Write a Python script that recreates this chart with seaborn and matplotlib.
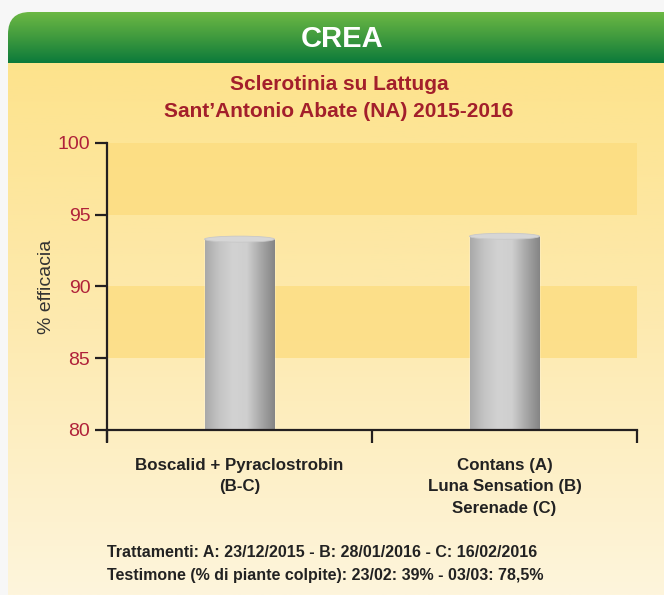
import numpy as np
import pandas as pd
import matplotlib
matplotlib.use("Agg")
import matplotlib.pyplot as plt
import seaborn as sns
from matplotlib.patches import FancyBboxPatch, Ellipse, Rectangle
from matplotlib.colors import LinearSegmentedColormap

# dati
categorie = ["Boscalid + Pyraclostrobin\n(B-C)",
             "Contans (A)\nLuna Sensation (B)\nSerenade (C)"]
efficacia = [93.3, 93.5]
y_ticks = [80, 85, 90, 95, 100]
bande = [(95, 100), (85, 90)]

header = "CREA"
titolo = "Sclerotinia su Lattuga\nSant\u2019Antonio Abate (NA) 2015-2016"
y_label = "% efficacia"
note = ("Trattamenti: A: 23/12/2015 - B: 28/01/2016 - C: 16/02/2016\n"
        "Testimone (% di piante colpite): 23/02: 39% - 03/03: 78,5%")

W, H = 664, 595
sns.set_theme(style="white")
plt.rcParams["font.family"] = ["Liberation Sans Narrow", "Liberation Sans", "DejaVu Sans"]

fig = plt.figure(figsize=(W / 100, H / 100), dpi=100)
fig.patch.set_facecolor("#f7f7f7")

# sfondo del pannello in coordinate pixel
bg = fig.add_axes([0, 0, 1, 1], zorder=-5)
bg.set_xlim(0, W)
bg.set_ylim(H, 0)
bg.axis("off")

panel = FancyBboxPatch((8, 12), W + 40, H + 40, boxstyle="round,pad=0,rounding_size=22",
                       facecolor="none", edgecolor="none")
bg.add_patch(panel)
giallo = LinearSegmentedColormap.from_list("g", ["#fde38c", "#fdeab0", "#fef5dc"])
img = bg.imshow(np.linspace(0, 1, 256).reshape(-1, 1), cmap=giallo, aspect="auto",
                extent=(8, W, H, 63), zorder=0)
img.set_clip_path(panel)
verde = LinearSegmentedColormap.from_list("v", ["#6cb844", "#3f9a3e", "#0b7a3b"])
img2 = bg.imshow(np.linspace(0, 1, 256).reshape(-1, 1), cmap=verde, aspect="auto",
                 extent=(8, W, 63, 12), zorder=1)
img2.set_clip_path(panel)
bg.text(342, 39, header, ha="center", va="center", color="white", fontsize=21,
        fontweight="bold", family=["Liberation Sans", "DejaVu Sans"])
bg.text(339, 98, titolo, ha="center", va="center", color="#a31f2b", fontsize=15,
        fontweight="bold", linespacing=1.5)
bg.text(107, 564, note, ha="left", va="center", color="#222222", fontsize=11.5,
        fontweight="bold", linespacing=1.65)

# grafico
ax = fig.add_axes([107 / W, 1 - 430 / H, 530 / W, 287 / H])
ax.set_facecolor("none")
df = pd.DataFrame({"categoria": categorie, "efficacia": efficacia})
sns.barplot(data=df, x="categoria", y="efficacia", color="#bdbdbd", width=0.264, ax=ax,
            zorder=3)
ax.set_xlim(-0.5, 1.5)
ax.set_ylim(80, 100)
for lo, hi in bande:
    ax.axhspan(lo, hi, color="#fcdc7e", alpha=0.75, lw=0, zorder=1)

# cilindri: gradiente orizzontale e tappo ellittico
grigio = LinearSegmentedColormap.from_list(
    "c", ["#a9a9a9", "#c4c4c4", "#d2d2d2", "#cfcfcf", "#a8a8a8", "#858585"])
for p in ax.patches:
    if not isinstance(p, Rectangle) or p.get_height() < 50:
        continue
    x0, w, h = p.get_x(), p.get_width(), p.get_height()
    im = ax.imshow(np.linspace(0, 1, 256).reshape(1, -1), cmap=grigio, aspect="auto",
                   extent=(x0, x0 + w, 80, h), zorder=4)
    im.set_clip_path(p)
    ax.add_patch(Ellipse((x0 + w / 2, h), w, 0.42, facecolor="#d6d6d6",
                         edgecolor="#c8c8c8", lw=0.6, zorder=5))
ax.set_xlim(-0.5, 1.5)
ax.set_ylim(80, 100)

sns.despine(ax=ax)
for s in ["left", "bottom"]:
    ax.spines[s].set_color("#231f20")
    ax.spines[s].set_linewidth(1.6)
    ax.spines[s].set_zorder(6)
ax.spines["left"].set_bounds(79.2, 100)

ax.set_yticks(y_ticks)
ax.set_yticklabels([str(t) for t in y_ticks], color="#b0223a", fontsize=14)
ax.tick_params(axis="y", direction="out", length=9, width=1.6, color="#231f20", pad=3, left=True)
ax.set_xticks([0, 1])
ax.set_xticklabels(categorie, fontsize=12.2, fontweight="bold", color="#222222",
                   linespacing=1.55)
ax.tick_params(axis="x", which="major", length=0, pad=20)
ax.set_xticks([-0.5, 0.5, 1.5], minor=True)
ax.tick_params(axis="x", which="minor", direction="out", length=9, width=1.6,
               color="#231f20", bottom=True)
ax.set_xlabel("")
ax.set_ylabel(y_label, fontsize=14, color="#333333", labelpad=2,
              family=["Liberation Sans", "DejaVu Sans"])
ax.grid(False)

fig.savefig("out.png", dpi=100)
